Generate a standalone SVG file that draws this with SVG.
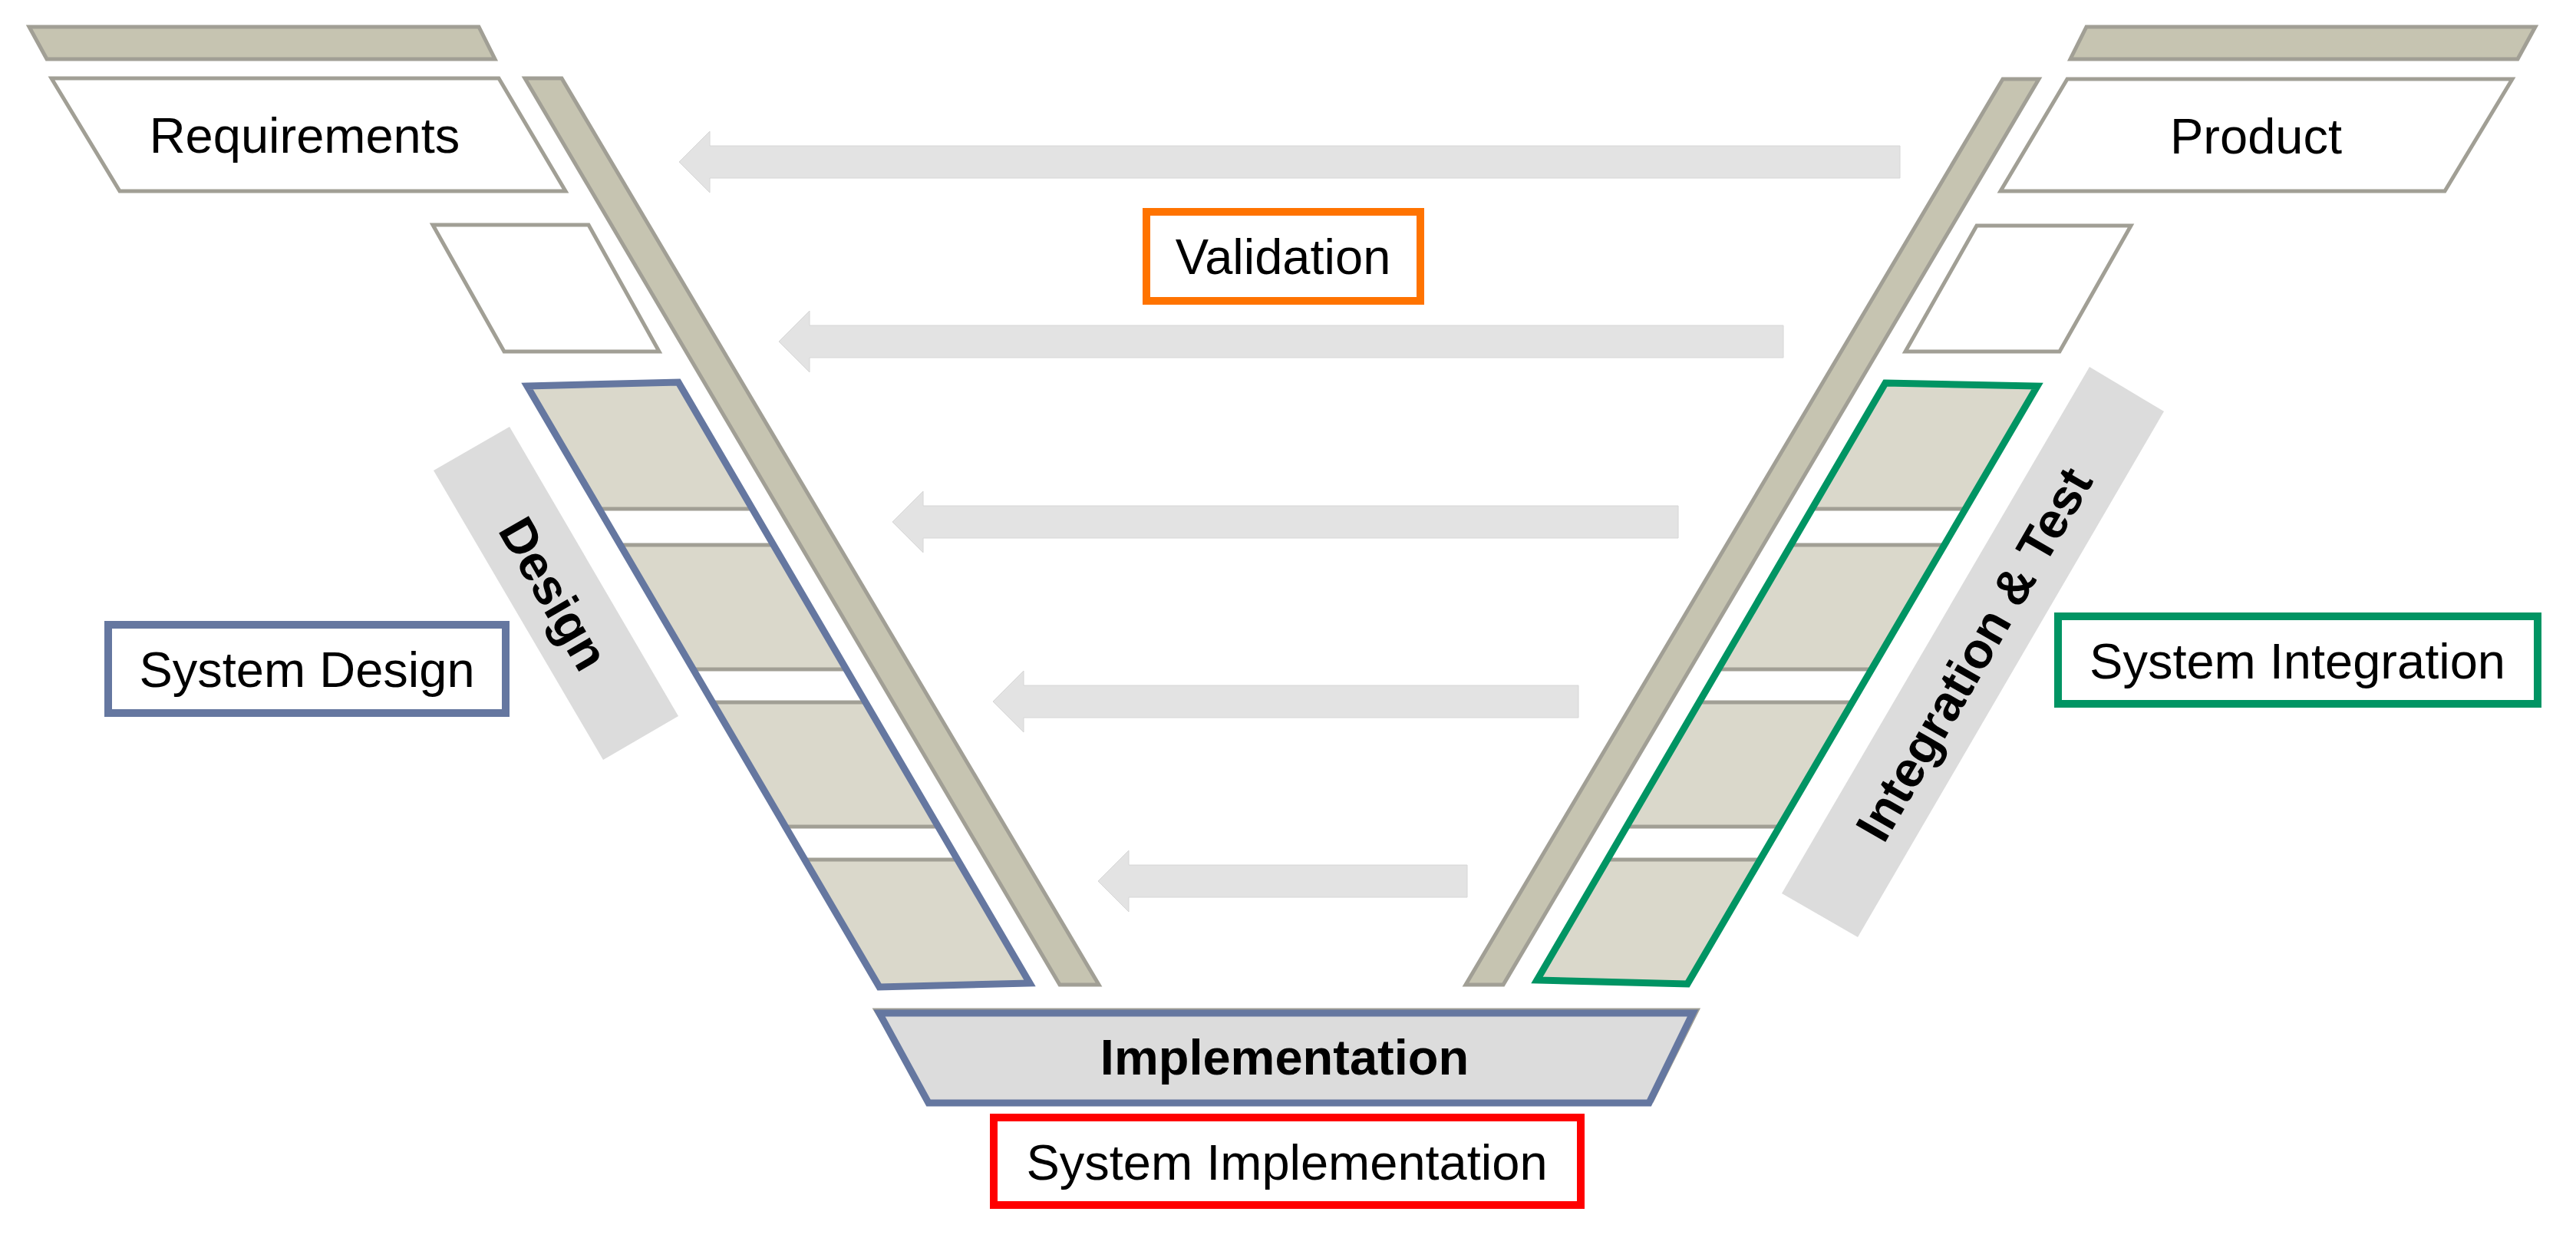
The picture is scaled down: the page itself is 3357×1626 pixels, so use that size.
<svg xmlns="http://www.w3.org/2000/svg" width="3357" height="1626" viewBox="0 0 3357 1626">
<style>
.bar{fill:#C6C4B1;stroke:#A19F95;stroke-width:5;stroke-linejoin:miter}
.wp{fill:#FFFFFF;stroke:#A19F95;stroke-width:5}
.seg{fill:#DAD8CB}
.gap{fill:#FFFFFF}
.gl{stroke:#A19F95;stroke-width:5}
.lbl{fill:#DCDCDC}
.arrow{fill:#E3E3E3;stroke:#D6D6D6;stroke-width:1}
.t{font-family:"Liberation Sans",Arial,sans-serif;font-size:65px;fill:#000;text-anchor:middle}
.b{font-weight:bold}
.box{fill:#FFFFFF;stroke-width:10}
</style>
<defs>
<clipPath id="clipL"><polygon points="687,503 884,498 1342,1281 1146,1286"/></clipPath>
<clipPath id="clipR"><polygon points="2457,499 2655,503 2199,1282 2003,1277"/></clipPath>
</defs>
<rect width="3357" height="1626" fill="#FFFFFF"/>

<g id="bar-top-left"><polygon class="bar" points="38,35 624,35 645,77 61,77"/></g>
<g id="requirements"><polygon class="wp" points="67,102 650,102 737,249 156,249"/><text class="t" x="397" y="199">Requirements</text></g>
<g id="req-sub"><polygon class="wp" points="564,293 767,293 859,458 657,458"/></g>
<g id="bar-left-diag"><polygon class="bar" points="684,102 732,102 1432,1283 1381,1283"/></g>

<g id="bar-top-right"><polygon class="bar" points="2719,35 3304,35 3281,77 2698,77"/></g>
<g id="product"><polygon class="wp" points="2694,103 3274,103 3186,249 2607,249"/><text class="t" x="2940" y="200">Product</text></g>
<g id="prod-sub"><polygon class="wp" points="2576,294 2777,294 2684,458 2483,458"/></g>
<g id="bar-right-diag"><polygon class="bar" points="2610,103 2657,103 1959,1283 1910,1283"/></g>

<g id="design-strip">
<polygon class="seg" points="687,503 884,498 1342,1281 1146,1286"/>
<g clip-path="url(#clipL)">
<rect class="gap" x="600" y="663" width="800" height="47"/>
<rect class="gap" x="600" y="872" width="800" height="43"/>
<rect class="gap" x="600" y="1077" width="800" height="43"/>
<line class="gl" x1="600" y1="663" x2="1400" y2="663"/><line class="gl" x1="600" y1="710" x2="1400" y2="710"/>
<line class="gl" x1="600" y1="872" x2="1400" y2="872"/><line class="gl" x1="600" y1="915" x2="1400" y2="915"/>
<line class="gl" x1="600" y1="1077" x2="1400" y2="1077"/><line class="gl" x1="600" y1="1120" x2="1400" y2="1120"/>
</g>
<polygon points="687,503 884,498 1342,1281 1146,1286" fill="none" stroke="#6577A0" stroke-width="9"/>
</g>

<g id="integration-strip">
<polygon class="seg" points="2457,499 2655,503 2199,1282 2003,1277"/>
<g clip-path="url(#clipR)">
<rect class="gap" x="1950" y="663" width="800" height="47"/>
<rect class="gap" x="1950" y="872" width="800" height="43"/>
<rect class="gap" x="1950" y="1077" width="800" height="43"/>
<line class="gl" x1="1950" y1="663" x2="2750" y2="663"/><line class="gl" x1="1950" y1="710" x2="2750" y2="710"/>
<line class="gl" x1="1950" y1="872" x2="2750" y2="872"/><line class="gl" x1="1950" y1="915" x2="2750" y2="915"/>
<line class="gl" x1="1950" y1="1077" x2="2750" y2="1077"/><line class="gl" x1="1950" y1="1120" x2="2750" y2="1120"/>
</g>
<polygon points="2457,499 2655,503 2199,1282 2003,1277" fill="none" stroke="#009463" stroke-width="9"/>
</g>

<g id="design-label">
<polygon class="lbl" points="565,613 664,556 884,933 786,990"/>
<text class="t b" x="722" y="796" transform="rotate(60 722 773)">Design</text>
</g>
<g id="integration-label">
<polygon class="lbl" points="2723,478 2820,536 2421,1221 2322,1164"/>
<text class="t b" x="2572" y="875" transform="rotate(-60 2572 852)">Integration &amp; Test</text>
</g>

<g id="implementation">
<polygon points="1141,1316 2212,1316 2153,1434 1212,1434" fill="#DCDCDC" stroke="#A19F95" stroke-width="5"/>
<polygon points="1146,1320 2206,1320 2149,1437 1210,1437" fill="#DCDCDC" stroke="#6577A0" stroke-width="9"/>
<text class="t b" x="1674" y="1400">Implementation</text>
</g>

<g id="validation"><rect class="box" x="1494" y="276" width="357" height="116" stroke="#FF7300"/><text class="t" x="1672" y="357">Validation</text></g>
<g id="system-design"><rect class="box" x="141" y="814" width="518" height="115" stroke="#6577A0"/><text class="t" x="400" y="895">System Design</text></g>
<g id="system-integration"><rect class="box" x="2682" y="803" width="625" height="114" stroke="#009463"/><text class="t" x="2994" y="884">System Integration</text></g>
<g id="system-implementation"><rect class="box" x="1295" y="1456" width="765" height="114" stroke="#FF0000"/><text class="t" x="1677" y="1537">System Implementation</text></g>

<g id="connectors">
<polygon class="arrow" points="885,211 925,171 925,190 2476,190 2476,232 925,232 925,251"/>
<polygon class="arrow" points="1015,445 1055,405 1055,424 2324,424 2324,466 1055,466 1055,485"/>
<polygon class="arrow" points="1163,680 1203,640 1203,659 2187,659 2187,701 1203,701 1203,720"/>
<polygon class="arrow" points="1294,914 1334,874 1334,893 2057,893 2057,935 1334,935 1334,954"/>
<polygon class="arrow" points="1431,1148 1471,1108 1471,1127 1912,1127 1912,1169 1471,1169 1471,1188"/>
</g>
</svg>
